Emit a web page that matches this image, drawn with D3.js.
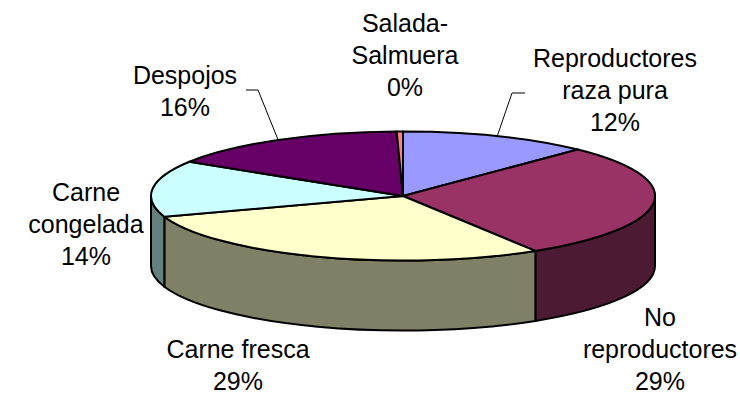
<!DOCTYPE html>
<html>
<head>
<meta charset="utf-8">
<script src="https://cdn.jsdelivr.net/npm/d3@7"></script>
<style>
  html, body { margin: 0; padding: 0; background: #fff; }
  svg { display: block; }
  text { font-family: Arial, "Liberation Sans", sans-serif; font-size: 25px; fill: #000; }
</style>
</head>
<body>
<svg id="chart" width="740" height="395"></svg>
<script>
// Share of exports by product type (%)
const categories = ["Reproductores raza pura", "No reproductores", "Carne fresca", "Carne congelada", "Despojos", "Salada-Salmuera"];
const shares = [12.2, 29.0, 28.6, 14.1, 15.7, 0.4];
const labelLines = [["Reproductores", "raza pura"], ["No", "reproductores"], ["Carne fresca"], ["Carne", "congelada"], ["Despojos"], ["Salada-", "Salmuera"]];

// Colours: top face and the darker outer wall
const topColors  = ["#9999FF", "#993366", "#FFFFCC", "#CCFFFF", "#660066", "#FF8080"];
const sideColors = ["#4D4D80", "#4D1A33", "#808066", "#668080", "#330033", "#804040"];

// Label layout: centre x, first baseline y
const labelLayout = [[615, 67], [660, 326], [238, 358], [86, 201], [185, 84], [405, 32]];
// Leader-line elbows (only for labels that have one)
const leaders = { 0: [[525, 93], [512, 93]], 4: [[246, 90], [258, 90]] };

const W = 740, H = 395;
const cx = 403, cy = 196, rx = 252, ry = 64.5, depth = 70, lineH = 32;

const svg = d3.select("#chart");

const pie = d3.pie().sort(null).value(d => d).startAngle(0).endAngle(2 * Math.PI);
const arcs = pie(shares);

// angle measured clockwise from 12 o'clock
const pt = (a, dy = 0) => [cx + rx * Math.sin(a), cy - ry * Math.cos(a) + dy];

// Outer walls: only the front half (angles between 90° and 270°) is visible
const front0 = Math.PI / 2, front1 = 3 * Math.PI / 2;
const sides = svg.append("g");
arcs.forEach((d, i) => {
  const a = Math.max(d.startAngle, front0), b = Math.min(d.endAngle, front1);
  if (b <= a) return;
  const p0 = pt(a), p1 = pt(b), q1 = pt(b, depth), q0 = pt(a, depth);
  const path = `M${p0}A${rx},${ry} 0 0 1 ${p1}L${q1}A${rx},${ry} 0 0 0 ${q0}Z`;
  sides.append("path")
    .attr("d", path)
    .attr("fill", sideColors[i])
    .attr("stroke", "#000")
    .attr("stroke-width", 2)
    .attr("stroke-linejoin", "round");
});

// Top faces
const tops = svg.append("g");
arcs.forEach((d, i) => {
  const p0 = pt(d.startAngle), p1 = pt(d.endAngle);
  const large = (d.endAngle - d.startAngle) > Math.PI ? 1 : 0;
  const path = `M${cx},${cy}L${p0}A${rx},${ry} 0 ${large} 1 ${p1}Z`;
  tops.append("path")
    .attr("d", path)
    .attr("fill", topColors[i])
    .attr("stroke", "#000")
    .attr("stroke-width", 2)
    .attr("stroke-linejoin", "round");
});

// Leader lines to the rim at each slice's mid angle
const lead = svg.append("g");
Object.entries(leaders).forEach(([k, elbow]) => {
  const d = arcs[+k];
  const m = pt((d.startAngle + d.endAngle) / 2);
  lead.append("polyline")
    .attr("points", [...elbow, m].map(p => p.join(",")).join(" "))
    .attr("fill", "none")
    .attr("stroke", "#000")
    .attr("stroke-width", 1);
});

// Labels: category name lines plus rounded percentage
const labels = svg.append("g").attr("text-anchor", "middle");
arcs.forEach((d, i) => {
  const [x, y] = labelLayout[i];
  const lines = [...labelLines[i], Math.round(shares[i]) + "%"];
  const t = labels.append("text").attr("x", x).attr("y", y);
  lines.forEach((s, j) => {
    t.append("tspan").attr("x", x).attr("y", y + j * lineH).text(s);
  });
});
</script>
</body>
</html>
